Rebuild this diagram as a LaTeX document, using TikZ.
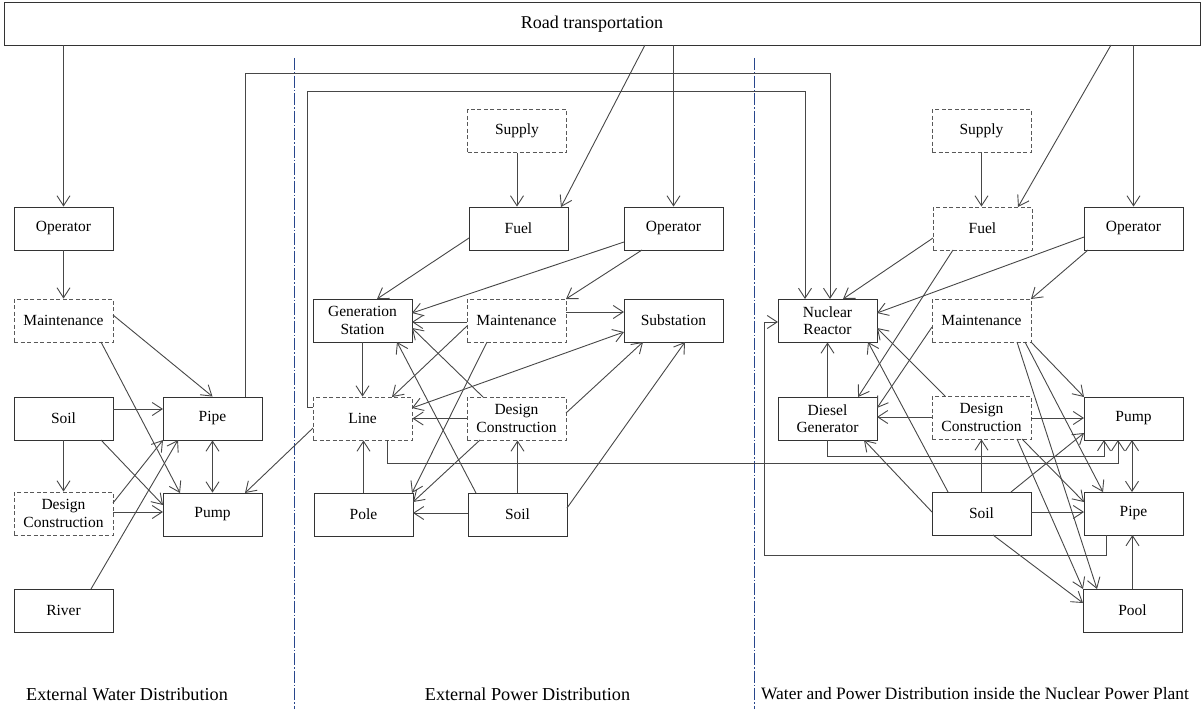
\documentclass[tikz,border=0pt]{standalone}
\usepackage{fontspec}
\setmainfont{Liberation Serif}
\usetikzlibrary{arrows.meta}
\definecolor{divblue}{RGB}{40,70,140}
\newcommand\off[3]{([shift={(#2,#3)}]#1.center)}
\begin{document}
\begin{tikzpicture}[x=1pt,y=-1pt,
  >={Straight Barb[length=10pt,width=13pt]},
  box/.style={draw=black!80, line width=0.9pt, minimum width=99pt, minimum height=43pt, inner sep=0pt, align=center, font=\fontsize{15.5}{17.5}\selectfont},
  dbox/.style={box, draw=black!65, dash pattern=on 4pt off 2.5pt},
  conn/.style={draw=black!72, line width=0.9pt, ->},
  dconn/.style={draw=black!72, line width=0.9pt, <->},
  divider/.style={draw=divblue, line width=0.8pt, dash pattern=on 12pt off 2pt on 1.5pt off 2pt},
  lab/.style={font=\fontsize{18.2}{20}\selectfont, inner sep=0pt}
]
\useasboundingbox (0,0) rectangle (1204,709);

% dividers
\coordinate (d1t) at (294,58); \coordinate (d1b) at (294,709);
\coordinate (d2t) at (754,58); \coordinate (d2b) at (754,709);
\draw[divider] (d1t) -- (d1b);
\draw[divider] (d2t) -- (d2b);

% top box
\node[box, minimum width=1196pt, font=\fontsize{18}{20}\selectfont, text depth=0pt, text height=10pt] (road) at (602,23.5) {\hspace*{-20pt}Road transportation};

% left column
\node[box]  (wop)    at (63.5,228.5) {Operator};
\node[dbox] (wmt)    at (63.5,320.5) {Maintenance};
\node[box]  (wsoil)  at (63.5,418.5) {Soil};
\node[dbox] (wdc)    at (63.5,513.5) {Design\\Construction};
\node[box]  (wriver) at (63.5,610.5) {River};
\node[box]  (wpipe)  at (212.5,418.5) {Pipe};
\node[box]  (wpump)  at (212.5,514.5) {Pump};

% middle column
\node[dbox] (msup)  at (517,131) {Supply};
\node[box]  (mfuel) at (518.5,228.5) {Fuel};
\node[box]  (mop)   at (673.5,228.5) {Operator};
\node[box]  (mgen)  at (362.5,320.5) {Generation\\Station};
\node[dbox] (mmt)   at (516.5,320.5) {Maintenance};
\node[box]  (msub)  at (673.5,320.5) {Substation};
\node[dbox] (mline) at (362.5,418.5) {Line};
\node[dbox] (mdc)   at (516.5,418.5) {Design\\Construction};
\node[box]  (mpole) at (363.5,514.5) {Pole};
\node[box]  (msoil) at (517.5,514.5) {Soil};

% right column
\node[dbox] (nsup)  at (981.5,131) {Supply};
\node[dbox] (nfuel) at (982.5,228.5) {Fuel};
\node[box]  (nop)   at (1133.5,228.5) {Operator};
\node[box]  (nreac) at (827.5,320.5) {Nuclear\\Reactor};
\node[dbox] (nmt)   at (981.5,320.5) {Maintenance};
\node[box]  (ndg)   at (827.5,418.5) {Diesel\\Generator};
\node[dbox] (ndc)   at (981.5,417.5) {Design\\Construction};
\node[box]  (npump) at (1133.5,418.5) {Pump};
\node[box]  (nsoil) at (981.5,513.5) {Soil};
\node[box]  (npipe) at (1133.5,513.5) {Pipe};
\node[box]  (npool) at (1132.5,610.5) {Pool};

% bottom labels
\node[lab] (lw) at (127,694) {External Water Distribution};
\node[lab] (lp) at (527.5,694) {External Power Distribution};
\node[lab, font=\fontsize{17.4}{20}\selectfont, anchor=west] (ln) at (761,694) {Water and Power Distribution inside the Nuclear Power Plant};

% ---- left connectors
\draw[conn] (road.south -| wop.north) -- (wop.north);
\draw[conn] (wop.south) -- (wmt.north);
\draw[conn] \off{wmt}{49.5}{-5.5} -- (wpipe.north);
\draw[conn] \off{wmt}{37.5}{21.5} -- \off{wpump}{-32.5}{-21.5};
\draw[conn] \off{wsoil}{49.5}{-9.5} -- \off{wpipe}{-49.5}{-9.5};
\draw[conn] \off{wsoil}{37.5}{21.5} -- \off{wpump}{-49.5}{-9.5};
\draw[conn] (wsoil.south) -- (wdc.north);
\draw[conn] \off{wdc}{49.5}{-10.5} -- \off{wpipe}{-49.5}{21.5};
\draw[conn] \off{wdc}{49.5}{-1.5} -- \off{wpump}{-49.5}{-2.5};
\draw[conn] \off{wriver}{27.5}{-21.5} -- \off{wpipe}{-34.5}{21.5};
\draw[dconn] (wpipe.south) -- (wpump.north);
\draw[conn] \off{mline}{-49.5}{9.5} -- \off{wpump}{32.5}{-21.5};
\draw[conn] \off{wpipe}{32.5}{-21.5} -- ++(0,-324) -| \off{nreac}{2.5}{-21.5};
\draw[conn] \off{mline}{-49.5}{-11.5} -- ++(-6,0) -- ++(0,-316) -| \off{nreac}{-22.5}{-21.5};

% ---- middle connectors
\draw[conn] \off{road}{43}{21.5} -- \off{mfuel}{42.5}{-21.5};
\draw[conn] (road.south -| mop.north) -- (mop.north);
\draw[conn] (msup.south) -- (msup.south |- mfuel.north);
\draw[conn] \off{mfuel}{-49.5}{9.5} -- \off{mgen}{14.5}{-21.5};
\draw[conn] \off{mop}{-49.5}{13.5} -- \off{mgen}{49.5}{-7.5};
\draw[conn] \off{mop}{-31.5}{21.5} -- \off{mmt}{49.5}{-21.5};
\draw[conn] \off{mmt}{-49.5}{1.5} -- \off{mgen}{49.5}{1.5};
\draw[conn] \off{mmt}{49.5}{-8.5} -- \off{msub}{-49.5}{-8.5};
\draw[conn] \off{mmt}{-49.5}{5.5} -- \off{mline}{29.5}{-21.5};
\draw[conn] \off{mmt}{-29.5}{21.5} -- \off{mpole}{48.5}{-21.5};
\draw[conn] (mgen.south) -- (mline.north);
\draw[conn] (mpole.north) -- (mpole.north |- mline.south);
\draw[conn] (mdc.west) -- (mline.east);
\draw[conn] \off{mdc}{-33.5}{-21.5} -- \off{mgen}{49.5}{7.5};
\draw[conn] \off{msoil}{-41.5}{-21.5} -- \off{mgen}{34.5}{21.5};
\draw[conn] (msoil.north) -- (msoil.north |- mdc.south);
\draw[dconn] \off{msub}{-49.5}{11.5} -- \off{mline}{49.5}{-10.5};
\draw[conn] \off{mdc}{49.5}{-5.5} -- \off{msub}{-30.5}{21.5};
\draw[conn] \off{msoil}{49.5}{-6.5} -- \off{msub}{11.5}{21.5};
\draw[conn] \off{mdc}{-36.5}{21.5} -- \off{mpole}{49.5}{-12.5};
\draw[conn] \off{msoil}{-49.5}{-1.5} -- \off{mpole}{49.5}{-1.5};

% ---- right connectors
\draw[conn] \off{road}{509}{21.5} -- \off{nfuel}{35.5}{-21.5};
\draw[conn] (road.south -| nop.north) -- (nop.north);
\draw[conn] (nsup.south) -- (nsup.south |- nfuel.north);
\draw[conn] \off{nfuel}{-49.5}{9.5} -- \off{nreac}{15.5}{-21.5};
\draw[conn] \off{nfuel}{-29.5}{21.5} -- \off{ndg}{30.5}{-21.5};
\draw[conn] \off{nop}{-49.5}{8.5} -- \off{nreac}{49.5}{-7.5};
\draw[conn] \off{nop}{-45.5}{21.5} -- \off{nmt}{49.5}{-21.5};
\draw[conn] \off{nmt}{-49.5}{6.5} -- \off{ndg}{49.5}{-10.5};
\draw[conn] \off{ndc}{-49.5}{-0.5} -- \off{ndg}{49.5}{-1.5};
\draw[conn] \off{ndc}{-36.5}{-21.5} -- \off{nreac}{49.5}{7.5};
\draw[conn] \off{nsoil}{-33.5}{-21.5} -- \off{nreac}{40.5}{21.5};
\draw[conn] \off{nsoil}{-49.5}{-1.5} -- \off{ndg}{36.5}{21.5};
\draw[conn] (ndg.north) -- (nreac.south);
\draw[conn] (nsoil.north) -- (nsoil.north |- ndc.south);
\draw[conn] \off{ndc}{49.5}{0.5} -- \off{npump}{-49.5}{-0.5};
\draw[conn] \off{nmt}{49.5}{21.5} -- \off{npump}{-49.5}{-21.5};
\draw[conn] \off{nmt}{43.5}{21.5} -- \off{npipe}{-30.5}{-21.5};
\draw[conn] \off{nmt}{35.5}{21.5} -- \off{npool}{-35.5}{-21.5};
\draw[conn] \off{ndc}{40.5}{21.5} -- \off{npipe}{-49.5}{-11.5};
\draw[conn] \off{ndc}{35.5}{21.5} -- \off{npool}{-49.5}{-21.5};
\draw[conn] \off{nsoil}{11.5}{21.5} -- \off{npool}{-49.5}{-7.5};
\draw[conn] \off{nsoil}{49.5}{-1.5} -- \off{npipe}{-49.5}{-1.5};
\draw[conn] \off{nsoil}{29.5}{-21.5} -- \off{npump}{-49.5}{14.5};
\draw[dconn] \off{npump}{-1.5}{21.5} -- \off{npipe}{-1.5}{-21.5};
\draw[conn] (npool.north) -- \off{npipe}{-1}{21.5};
\draw[conn] \off{npipe}{-27.5}{21.5} |- \off{nreac}{-63.5}{234.5} |- \off{nreac}{-49.5}{1.5};
\draw[conn] (ndg.south) |- \off{npump}{-29.5}{37.5} -- \off{npump}{-29.5}{21.5};
\draw[conn] \off{mline}{24.5}{21.5} |- \off{npump}{-15.5}{44.5} -- \off{npump}{-15.5}{21.5};
\end{tikzpicture}
\end{document}
